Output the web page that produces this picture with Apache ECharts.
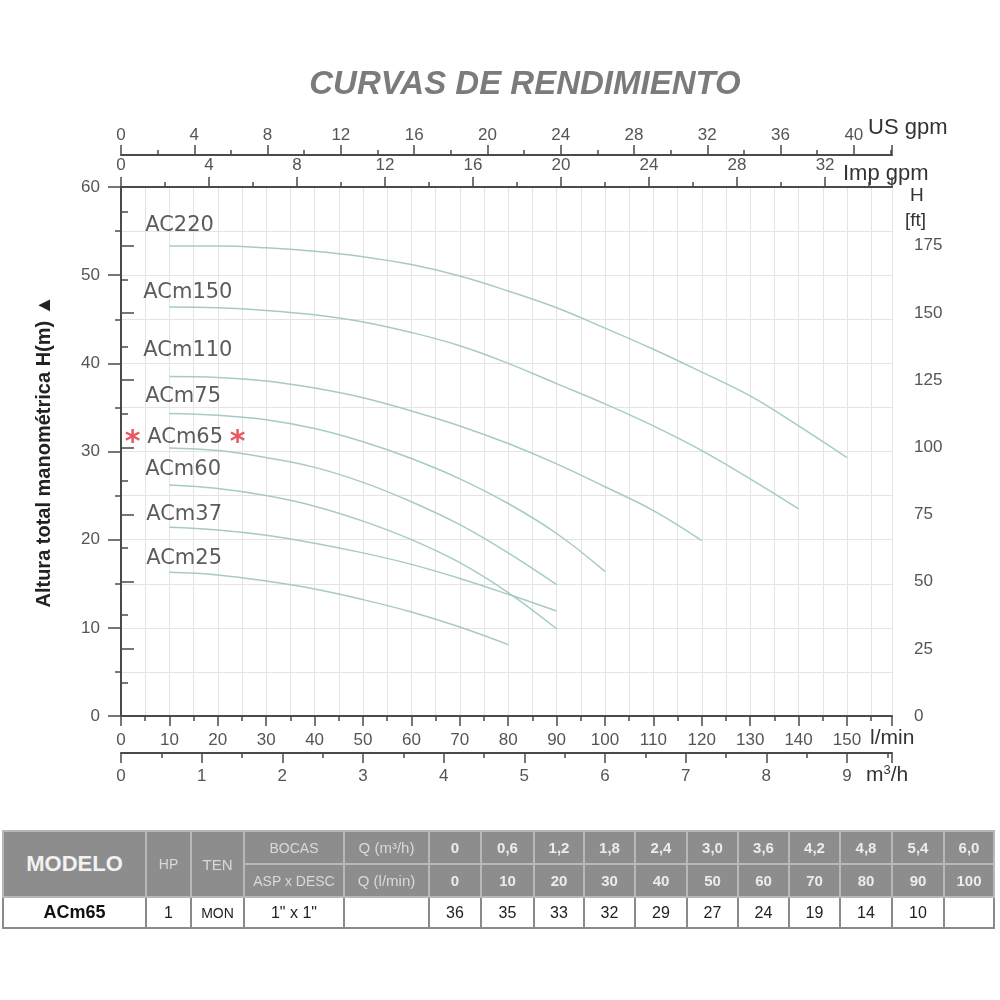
<!DOCTYPE html>
<html>
<head>
<meta charset="utf-8">
<script src="https://cdn.jsdelivr.net/npm/echarts@6/dist/echarts.min.js"></script>
<style>
  html,body{margin:0;padding:0;background:#fff;}
  #chart{position:absolute;left:0;top:0;width:1000px;height:1000px;}
  #tbl{position:absolute;left:2px;top:830px;border-collapse:collapse;font-family:'Liberation Sans',Arial,sans-serif;table-layout:fixed;}
  #tbl td{text-align:center;padding:0;overflow:hidden;white-space:nowrap;}
  #tbl tr.h td{background:#8d8d8d;color:#ececec;border:2px solid #b8b8b8;font-weight:bold;font-size:15px;}
  #tbl tr.h td.lt{font-weight:normal;color:#d9d9d9;font-size:14px;}
  #tbl tr.d td{background:#fff;color:#222;border:2px solid #8a8a8a;font-size:16px;}
</style>
</head>
<body>
<div id="chart"></div>
<table id="tbl"></table>
<script>
// ---------- data ----------
const flowLpm = [10,20,30,40,50,60,70,80,90,100,110,120,130,140,150];
const AC220  = [53.3,53.3,53.1,52.7,52.1,51.2,49.9,48.2,46.3,44.0,41.6,39.0,36.3,32.9,29.3];
const ACm150 = [46.4,46.3,46.0,45.5,44.7,43.5,42.0,40.0,37.7,35.4,32.9,30.1,26.9,23.5];
const ACm110 = [38.5,38.4,38.0,37.2,36.1,34.6,32.9,30.9,28.6,26.0,23.3,19.9];
const ACm75  = [34.3,34.1,33.6,32.6,31.1,29.2,26.9,24.1,20.7,16.4];
const ACm65  = [30.4,30.1,29.3,28.2,26.5,24.3,21.7,18.5,14.9];
const ACm60  = [26.2,25.8,25.0,23.8,22.1,20.0,17.4,14.0,9.9];
const ACm37  = [21.4,21.1,20.5,19.6,18.5,17.2,15.6,13.8,11.9];
const ACm25  = [16.3,16.0,15.3,14.4,13.2,11.8,10.1,8.1];
const curveNames = ['AC220','ACm150','ACm110','ACm75','ACm65','ACm60','ACm37','ACm25'];
const curveValues = [AC220,ACm150,ACm110,ACm75,ACm65,ACm60,ACm37,ACm25];
// label anchor [l/min, m]
const labelX = [5,4.6,4.6,5,0.8,5,5.2,5.2];
const labelY = [55.6,48.0,41.4,36.2,31.6,28.0,22.9,17.9];

// table
const qM3h   = ['0','0,6','1,2','1,8','2,4','3,0','3,6','4,2','4,8','5,4','6,0'];
const qLmin  = ['0','10','20','30','40','50','60','70','80','90','100'];
const headM  = ['36','35','33','32','29','27','24','19','14','10',''];

// ---------- conversions ----------
const X_MAX = 159.3;               // l/min
const M3H = 1000/60;               // l/min per m3/h
const USG = 3.78541, IMPG = 4.54609;
const FT = 0.3048;

const font = "'Liberation Sans', Arial, sans-serif";
const lblFont = "'DejaVu Sans', Verdana, sans-serif";
const axisColor = '#4a4a4a';
const labCol = '#555';
const gridCol = '#e4e4e4';
const FS = 17;

function xAx(opts){
  return Object.assign({
    type:'value', min:0,
    axisLine:{show:true,onZero:false,lineStyle:{color:axisColor,width:2}},
    axisTick:{show:true,length:10,lineStyle:{color:axisColor,width:1.5}},
    minorTick:{show:true,splitNumber:2,length:5,lineStyle:{color:axisColor,width:1.5}},
    splitLine:{show:false}
  }, opts);
}
function lab(margin, ok){
  return {color:labCol,fontSize:FS,fontFamily:font,margin:margin,showMaxLabel:false,
    formatter:v=> ok(v) ? String(v) : ''};
}

const series = curveNames.map((n,i)=>({
  type:'line', name:n, xAxisIndex:0, yAxisIndex:0,
  data: curveValues[i].map((v,k)=>[flowLpm[k], v]),
  smooth:0.4, showSymbol:false, symbol:'none',
  lineStyle:{color:'#a6cbc6',width:1.5},
  z:3, silent:true
}));

series.push({
  type:'scatter', xAxisIndex:0, yAxisIndex:0, symbolSize:0, silent:true,
  data: curveNames.map((n,i)=>({name:n, value:[labelX[i],labelY[i]]})),
  label:{
    show:true, position:'right', distance:0,
    color:'#333', fontSize:21, fontFamily:lblFont,
    formatter:p => p.name==='ACm65' ? '{s|*} ACm65 {s|*}' : p.name,
    rich:{ s:{color:'#e0303a',fontSize:30,fontWeight:'bold',fontFamily:lblFont,padding:[12,0,0,0]} }
  },
  z:5
});

const chart = echarts.init(document.getElementById('chart'));
chart.setOption({
  backgroundColor:'#fff',
  animation:false,
  title:{
    text:'CURVAS DE RENDIMIENTO', left:520, top:63, textAlign:'center',
    textStyle:{color:'#7b7b7b',fontSize:33,fontStyle:'italic',fontWeight:'bold',fontFamily:font}
  },
  grid:{left:121,right:108,top:187,bottom:284,containLabel:false},
  xAxis:[
    xAx({position:'bottom', max:X_MAX, interval:10,
      axisLabel:lab(16, v=> v%10===0 && v<=150),
      splitLine:{show:true,lineStyle:{color:gridCol,width:1}},
      minorSplitLine:{show:true,lineStyle:{color:gridCol,width:1}}
    }),
    xAx({position:'bottom', offset:37, max:X_MAX/M3H, interval:1,
      axisLabel:lab(15, v=> Number.isInteger(v) && v<=9)
    }),
    xAx({position:'top', offset:0, max:X_MAX/IMPG, interval:4,
      axisLabel:lab(13, v=> v%4===0 && v<=32)
    }),
    xAx({position:'top', offset:32, max:X_MAX/USG, interval:4,
      axisLabel:lab(11, v=> v%4===0 && v<=40)
    })
  ],
  yAxis:[
    {type:'value', position:'left', min:0, max:60, interval:10,
      name:'Altura total manométrica H(m) ▲', nameLocation:'middle', nameGap:67, nameRotate:90,
      nameTextStyle:{color:'#222',fontSize:20,fontWeight:'bold',fontFamily:font},
      axisLine:{show:true,lineStyle:{color:axisColor,width:2}},
      axisTick:{show:true,length:13,lineStyle:{color:axisColor,width:1.5}},
      minorTick:{show:true,splitNumber:2,length:6,lineStyle:{color:axisColor,width:1.5}},
      axisLabel:{color:labCol,fontSize:FS,fontFamily:font,margin:21},
      splitLine:{show:true,lineStyle:{color:gridCol,width:1}},
      minorSplitLine:{show:true,lineStyle:{color:gridCol,width:1}}
    },
    {type:'value', position:'right', min:0, max:60/FT, interval:25,
      axisLine:{show:true,lineStyle:{color:axisColor,width:2}},
      axisTick:{show:true,length:13,lineStyle:{color:axisColor,width:1.5}},
      minorTick:{show:true,splitNumber:2,length:7,lineStyle:{color:axisColor,width:1.5}},
      axisLabel:lab(22, v=> v%25===0 && v<=175),
      splitLine:{show:false}
    }
  ],
  graphic:[
    {type:'text',left:868,top:117,style:{text:'US gpm',fontSize:22,fill:'#333',fontFamily:font}},
    {type:'text',left:843,top:163,style:{text:'Imp gpm',fontSize:22,fill:'#333',fontFamily:font}},
    {type:'text',left:870,top:728,style:{text:'l/min',fontSize:21,fill:'#333',fontFamily:font}},
    {type:'text',left:866,top:764,style:{text:'m{sup|3}/h',fontSize:21,fill:'#333',fontFamily:font,
      rich:{sup:{fontSize:13,fill:'#333',fontFamily:font,verticalAlign:'top',padding:[0,0,10,0]}}}},
    {type:'text',left:910,top:186,style:{text:'H',fontSize:19,fill:'#333',fontFamily:font}},
    {type:'text',left:905,top:211,style:{text:'[ft]',fontSize:19,fill:'#333',fontFamily:font}}
  ],
  series:series
});

// ---------- table ----------
const widths = [143,45,53,100,85,52,53,50,51,52,51,51,51,52,52,50];
const tbl = document.getElementById('tbl');
let html = '<colgroup>' + widths.map(w=>'<col style="width:'+w+'px">').join('') + '</colgroup>';
html += '<tr class="h" style="height:33px">'
  + '<td rowspan="2" style="font-size:22px;color:#f2f2f2">MODELO</td>'
  + '<td rowspan="2" class="lt">HP</td>'
  + '<td rowspan="2" class="lt" style="font-size:15px">TEN</td>'
  + '<td class="lt">BOCAS</td>'
  + '<td class="lt" style="font-size:15px">Q (m³/h)</td>'
  + qM3h.map(v=>'<td>'+v+'</td>').join('') + '</tr>';
html += '<tr class="h" style="height:33px">'
  + '<td class="lt">ASP x DESC</td>'
  + '<td class="lt" style="font-size:15px">Q (l/min)</td>'
  + qLmin.map(v=>'<td>'+v+'</td>').join('') + '</tr>';
html += '<tr class="d" style="height:31px">'
  + '<td style="font-weight:bold;font-size:18px;color:#111">ACm65</td>'
  + '<td>1</td><td style="font-size:14px">MON</td><td>1" x 1"</td><td></td>'
  + headM.map(v=>'<td>'+v+'</td>').join('') + '</tr>';
tbl.innerHTML = html;
</script>
</body>
</html>
